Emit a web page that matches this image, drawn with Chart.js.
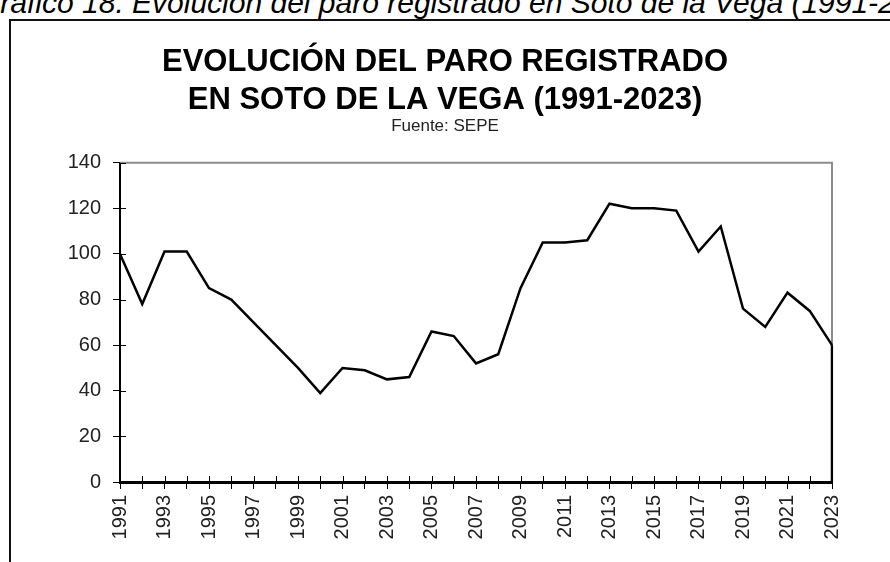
<!DOCTYPE html>
<html>
<head>
  <meta charset="utf-8">
  <title>Evolución del paro registrado en Soto de la Vega</title>
  <script src="https://cdn.jsdelivr.net/npm/chart.js"></script>
  <style>
    body {
      margin: 0;
      width: 890px;
      height: 562px;
      overflow: hidden;
      position: relative;
      background: white;
      font-family: "Liberation Sans", Arial, sans-serif;
    }
    #caption {
      position: absolute;
      left: -23px;
      top: -12px;
      font-size: 30px;
      line-height: 30px;
      font-style: italic;
      white-space: nowrap;
      color: #000;
    }
    #frame {
      position: absolute;
      left: 9px;
      top: 19px;
      width: 960px;
      height: 570px;
      border: 2px solid #111;
    }
    #chartParo {
      position: absolute;
      left: 0;
      top: 0;
    }
  </style>
</head>
<body>

  <div id="caption">Gráfico 18. Evolución del paro registrado en Soto de la Vega (1991-2023)</div>
  <div id="frame">
    <canvas id="chartParo" width="868" height="541"></canvas>
  </div>

  <script>
    // datos (SEPE)
    const years = ['1991','1992','1993','1994','1995','1996','1997','1998','1999','2000',
                   '2001','2002','2003','2004','2005','2006','2007','2008','2009','2010',
                   '2011','2012','2013','2014','2015','2016','2017','2018','2019','2020',
                   '2021','2022','2023'];
    const paro = [100, 78, 101, 101, 85, 80, 70, 60, 50, 39,
                  50, 49, 45, 46, 66, 64, 52, 56, 85, 105,
                  105, 106, 122, 120, 120, 119, 101, 112, 76, 68,
                  83, 75, 60];
    const titulo = ['EVOLUCIÓN DEL PARO REGISTRADO', 'EN SOTO DE LA VEGA (1991-2023)'];
    const fuente = 'Fuente: SEPE';

    const lastYear = years[years.length - 1];
    const lastVal = paro[paro.length - 1];

    // marco gris arriba/derecha + marcas de eje que cruzan hacia dentro
    const marco = {
      id: 'marco',
      beforeDatasetsDraw(chart) {
        const { ctx, chartArea: a } = chart;
        ctx.save();
        ctx.strokeStyle = '#8c8c8c';
        ctx.lineWidth = 2;
        ctx.beginPath();
        ctx.moveTo(a.left, a.top);
        ctx.lineTo(a.right, a.top);
        ctx.lineTo(a.right, a.bottom);
        ctx.stroke();

        ctx.strokeStyle = '#000';
        ctx.lineWidth = 1;
        const sx = chart.scales.x, sy = chart.scales.y;
        ctx.beginPath();
        sx.ticks.forEach((t, i) => {
          const px = Math.round(sx.getPixelForTick(i)) + 0.5;
          ctx.moveTo(px, a.bottom);
          ctx.lineTo(px, a.bottom - 6);
        });
        sy.ticks.forEach((t, i) => {
          const py = Math.round(sy.getPixelForTick(i)) + 0.5;
          ctx.moveTo(a.left, py);
          ctx.lineTo(a.left + 6, py);
        });
        ctx.stroke();
        ctx.restore();
      }
    };

    const ctx = document.getElementById('chartParo').getContext('2d');
    const chart = new Chart(ctx, {
      type: 'line',
      data: {
        labels: years,
        datasets: [
          {
            label: 'Paro registrado',
            data: paro,
            borderColor: '#000',
            borderWidth: 2.5,
            pointRadius: 0,
            tension: 0
          },
          {
            label: 'cierre',
            data: [{ x: lastYear, y: lastVal }, { x: lastYear, y: 0 }],
            borderColor: '#000',
            borderWidth: 2.5,
            pointRadius: 0
          }
        ]
      },
      options: {
        responsive: false,
        animation: false,
        devicePixelRatio: 1,
        layout: { padding: { left: 47, right: 47, top: 0, bottom: 0 } },
        plugins: {
          legend: { display: false },
          tooltip: { enabled: false },
          title: {
            display: true,
            text: titulo,
            color: '#000',
            font: { family: 'Liberation Sans', size: 31, weight: 'bold', lineHeight: 1.23 },
            padding: { top: 22, bottom: -3 }
          },
          subtitle: {
            display: true,
            text: fuente,
            color: '#222',
            font: { family: 'Liberation Sans', size: 17, lineHeight: 1.2 },
            padding: { top: 0, bottom: 26 }
          }
        },
        scales: {
          x: {
            afterFit: (s) => { s.height = 80; },
            border: { color: '#000', width: 3 },
            grid: { drawOnChartArea: false, color: '#000', tickLength: 7 },
            ticks: {
              autoSkip: false,
              minRotation: 90,
              maxRotation: 90,
              padding: 6,
              color: '#222',
              font: { family: 'Liberation Sans', size: 20 },
              callback: function (v, i) { return i % 2 === 0 ? this.getLabelForValue(v) : ''; }
            }
          },
          y: {
            min: 0,
            max: 140,
            afterFit: (s) => { s.width = 62; },
            border: { color: '#000', width: 2 },
            grid: { drawOnChartArea: false, color: '#000', tickLength: 7 },
            ticks: {
              stepSize: 20,
              padding: 12,
              color: '#222',
              font: { family: 'Liberation Sans', size: 20 }
            }
          }
        }
      },
      plugins: [marco]
    });
  </script>
</body>
</html>
